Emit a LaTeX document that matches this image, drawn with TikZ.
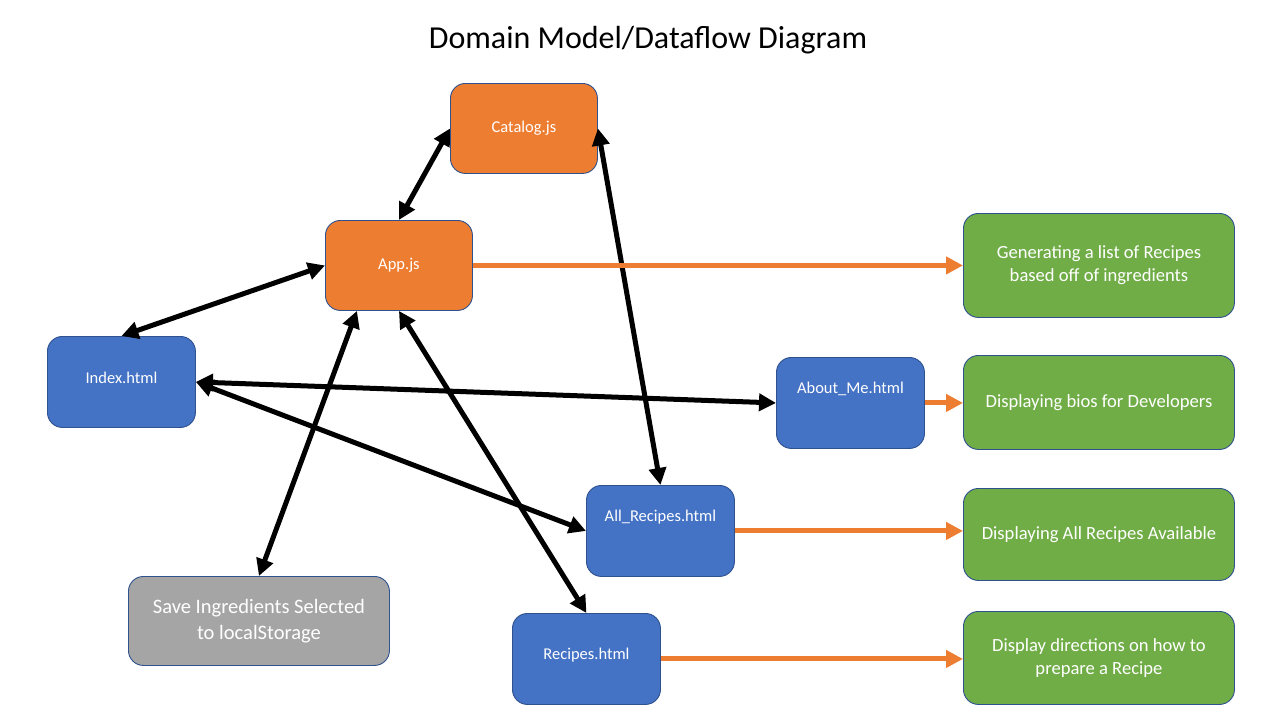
\documentclass[tikz,border=0pt]{standalone}
\usepackage{fontspec}
\setmainfont{Carlito}
\usetikzlibrary{arrows.meta}
\definecolor{boxorange}{HTML}{ED7D31}
\definecolor{boxblue}{HTML}{4472C4}
\definecolor{boxgreen}{HTML}{70AD47}
\definecolor{boxgray}{HTML}{A5A5A5}
\definecolor{boxedge}{HTML}{2F528F}
\tikzset{
  box/.style={draw=boxedge, line width=0.9pt, rounded corners=15pt, inner sep=0pt,
    text=white, align=center, anchor=north west},
  smallfont/.style={font=\fontsize{16.5}{20}\selectfont},
  jsbox/.style={box, fill=boxorange, minimum width=147pt, minimum height=90pt, smallfont},
  pagebox/.style={box, fill=boxblue, minimum width=148pt, minimum height=91pt, smallfont},
  resultbox/.style={box, fill=boxgreen, minimum width=271pt, font=\fontsize{18.6}{23}\selectfont},
  storebox/.style={box, fill=boxgray, minimum width=261pt, minimum height=89pt, font=\fontsize{20.5}{26}\selectfont},
  txt/.style={text=white, align=center, smallfont},
  link/.style={line width=5pt, {Triangle[length=17pt,width=17pt]}-{Triangle[length=17pt,width=17pt]}},
  flow/.style={line width=5pt, draw=boxorange, -{Triangle[length=17pt,width=17pt]}},
}
\begin{document}
\begin{tikzpicture}[x=1pt, y=-1pt]
  \fill[white] (0,0) rectangle (1280,720);
  \useasboundingbox (0,0) rectangle (1280,720);

  \node[font=\fontsize{32}{38}\selectfont] (title) at (648,40) {Domain Model/Dataflow Diagram};

  % script modules
  \node[jsbox] (cat) at (450,83) {Catalog.js};
  \node[jsbox] (app) at (325,220) {App.js};

  % pages
  \node[pagebox, label={[txt, yshift=4pt]center:Index.html}] (idx) at (47,336) {};
  \node[pagebox, label={[txt, yshift=14pt]center:About\_Me.html}] (about) at (776,357) {};
  \node[pagebox, label={[txt, yshift=14pt]center:All\_Recipes.html}] (allr) at (586,485) {};
  \node[pagebox, label={[txt, yshift=4pt]center:Recipes.html}] (rec) at (512,613) {};

  % storage
  \node[storebox] (save) at (128,576) {Save Ingredients Selected\\to localStorage};

  % outcomes
  \node[resultbox, minimum height=104pt] (g1) at (963,213) {Generating a list of Recipes\\based off of ingredients};
  \node[resultbox, minimum height=94pt] (g2) at (963,355) {Displaying bios for Developers};
  \node[resultbox, minimum height=92pt] (g3) at (963,488) {Displaying All Recipes Available};
  \node[resultbox, minimum height=93pt] (g4) at (963,611) {Display directions on how to\\prepare a Recipe};

  % two-way data links
  \draw[link] (cat.west) -- (app.north);
  \draw[link] (app.west) -- (idx.north);
  \draw[link] (idx.east) -- (about.west);
  \draw[link] (idx.east) -- (allr.west);
  \draw[link] ([xshift=-42pt]app.south) -- (save.north);
  \draw[link] (app.south) -- (rec.north);
  \draw[link] (cat.east) -- (allr.north);

  % outputs
  \draw[flow] (app.east) -- (app.east -| g1.west);
  \draw[flow] (about.east) -- (about.east -| g2.west);
  \draw[flow] (allr.east) -- (allr.east -| g3.west);
  \draw[flow] (rec.east) -- (rec.east -| g4.west);
\end{tikzpicture}
\end{document}
